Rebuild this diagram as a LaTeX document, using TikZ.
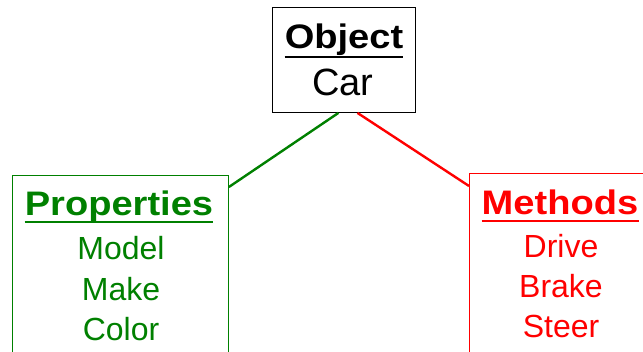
\documentclass[tikz,border=0pt]{standalone}
\usepackage{fontspec}
\setmainfont{Liberation Sans}
\definecolor{pgreen}{RGB}{0,128,0}
\definecolor{mred}{RGB}{255,0,0}
\tikzset{
  box/.style={draw, line width=0.9pt, rectangle, inner sep=0pt, anchor=north west},
  btxt/.style={font=\fontsize{34}{40}\selectfont\bfseries, xscale=1.12, transform shape, inner sep=0pt, anchor=base},
  itxt/.style={font=\fontsize{32}{38}\selectfont, inner sep=0pt, anchor=base},
  ctxt/.style={font=\fontsize{38}{44}\selectfont, inner sep=0pt, anchor=base},
  link/.style={line width=2.4pt},
  uline/.style={line width=2.6pt}
}
\begin{document}
\begin{tikzpicture}[x=1pt,y=1pt]
\useasboundingbox (0,0) rectangle (643,-351);
\begin{scope}
\clip (0,0) rectangle (643,-351);
% boxes
\node[box, minimum width=143pt, minimum height=105pt] (obj) at (272,-7) {};
\node[box, draw=pgreen, minimum width=216pt, minimum height=200pt] (prop) at (12,-175) {};
\node[box, draw=mred, minimum width=190pt, minimum height=200pt] (meth) at (469,-173) {};
% connectors
\draw[link, pgreen] ([xshift=-5.5pt]obj.south) -- ([yshift=-12pt]prop.north east);
\draw[link, mred] ([xshift=13.5pt]obj.south) -- ([yshift=-13pt]meth.north west);
\end{scope}
% object texts
\node[btxt] (tobj) at (344,-48) {Object};
\draw[uline] ([yshift=-9pt]tobj.base west) -- ([yshift=-9pt]tobj.base east);
\node[ctxt] (tcar) at (343,-95) {Car};
% properties
\node[btxt, text=pgreen] (tprop) at (119,-215) {Properties};
\draw[uline, pgreen] ([yshift=-7pt]tprop.base west) -- ([yshift=-7pt]tprop.base east);
\node[itxt, text=pgreen] (tmodel) at (121,-259.5) {Model};
\node[itxt, text=pgreen] (tmake) at (121,-300) {Make};
\node[itxt, text=pgreen] (tcolor) at (121,-340) {Color};
% methods
\node[btxt, text=mred] (tmeth) at (560,-214) {Methods};
\draw[uline, mred] ([yshift=-7pt]tmeth.base west) -- ([yshift=-7pt]tmeth.base east);
\node[itxt, text=mred] (tdrive) at (561,-257) {Drive};
\node[itxt, text=mred] (tbrake) at (561,-297) {Brake};
\node[itxt, text=mred] (tsteer) at (561,-337) {Steer};
\end{tikzpicture}
\end{document}
